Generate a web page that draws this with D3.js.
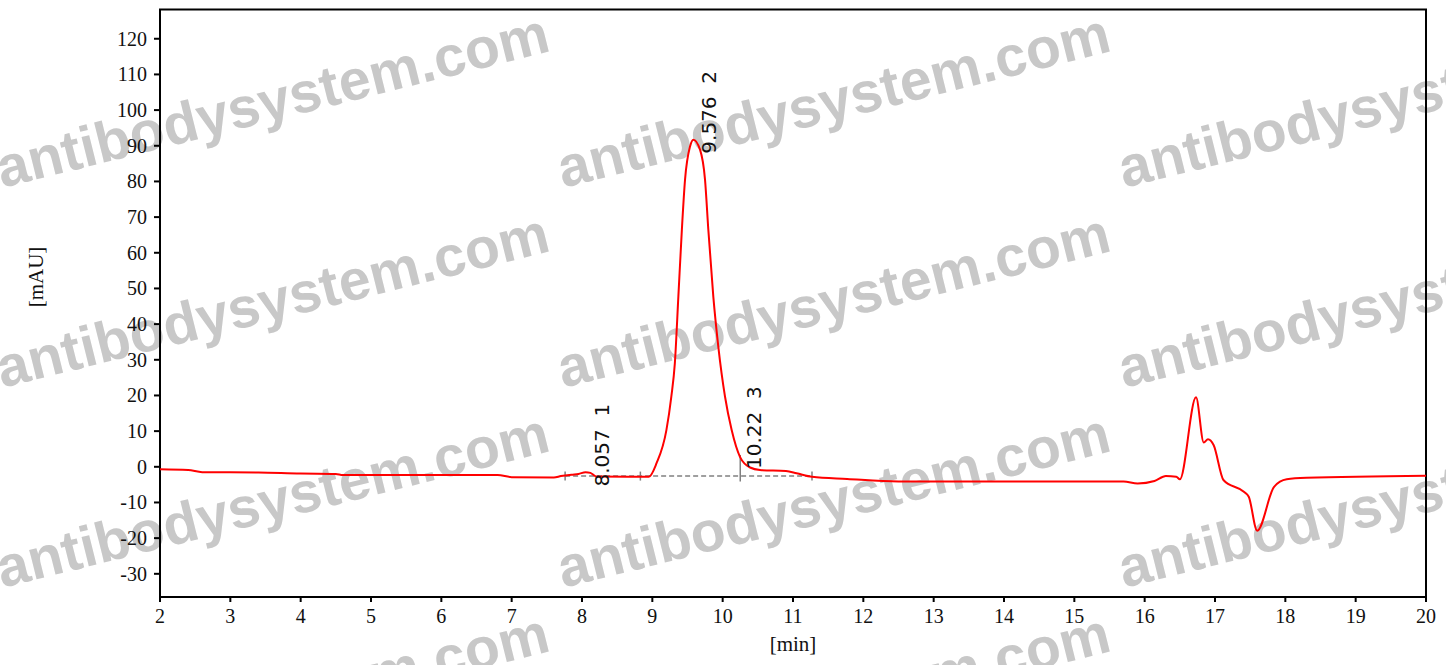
<!DOCTYPE html>
<html>
<head>
<meta charset="utf-8">
<script src="https://cdn.jsdelivr.net/npm/d3@7"></script>
<style>
  body { margin: 0; background: #fff; }
</style>
</head>
<body>
<div id="chartContainer"></div>
<script>
// retention time [min] and signal [mAU]
var times = [2.0, 2.4, 2.6, 3.4, 4.0, 4.5, 4.6, 6.8, 7.0, 7.6, 7.7, 7.85, 7.95, 8.05, 8.12, 8.2, 8.95,
    9.06, 9.2, 9.27, 9.32, 9.37, 9.42, 9.465, 9.536, 9.583, 9.678, 9.749, 9.796, 9.867, 9.938, 10.033,
    10.128, 10.246, 10.39, 10.53, 10.9, 11.05, 11.27, 11.77, 12.5, 15.7, 15.9, 16.14, 16.3, 16.45, 16.5,
    16.73, 16.84, 16.9, 16.98, 17.12, 17.41, 17.48, 17.6, 17.84, 18.02, 18.3, 20.0];
var signal = [-0.7, -0.9, -1.5, -1.6, -1.9, -2.0, -2.3, -2.3, -2.9, -3.0, -2.6, -2.2, -2.0, -1.5, -1.7, -2.7, -2.8,
    1.0, 10.3, 19.7, 29.0, 47.7, 66.5, 80.5, 89.8, 91.7, 88.9, 80.5, 66.5, 47.7, 33.7, 19.7,
    10.3, 2.8, -0.2, -0.9, -1.2, -1.8, -2.8, -3.4, -4.1, -4.1, -4.7, -4.0, -2.6, -2.8, -3.5,
    19.5, 6.8, 7.7, 6.1, -3.7, -7.0, -8.4, -17.9, -5.6, -3.5, -3.1, -2.5];

// integrated peaks
var peakTimes = [8.057, 9.576, 10.22];
var peakHeights = [-1.6, 91.7, 3.3];
var peakIds = ["1", "2", "3"];

// integration baseline and its boundary marks
var baseStart = 7.76, baseEnd = 11.27, baseLevel = -2.6;
var boundaryTimes = [7.76, 8.83, 11.27];
var dropTime = 10.25, dropTop = 3.3;

var xTicks = d3.range(2, 21, 1);
var yTicks = d3.range(-30, 130, 10);

var width = 1446, height = 665;
var plotLeft = 160, plotRight = 1426, plotTop = 9.5, plotBottom = 597;

var svg = d3.select("#chartContainer").append("svg")
    .attr("width", width)
    .attr("height", height);

var x = d3.scaleLinear().domain([2, 20]).range([plotLeft, plotRight]);
var y = d3.scaleLinear().domain([-36.5, 128.2]).range([plotBottom, plotTop]);

// watermark, drawn first so everything sits on top of it
var wm = svg.append("g").attr("class", "watermark");
for (var c = 0; c < 3; c++) {
    for (var r = -1; r < 4; r++) {
        var wx = 2 + c * 561, wy = 188 + r * 200;
        wm.append("text")
            .attr("transform", "translate(" + wx + "," + wy + ") rotate(-14)")
            .style("font-family", "'Liberation Sans', Arial, sans-serif")
            .style("font-weight", "bold")
            .style("font-size", "57px")
            .style("fill", "#c8c8c8")
            .text("antibodysystem.com");
    }
}

// frame
svg.append("rect")
    .attr("x", plotLeft)
    .attr("y", plotTop)
    .attr("width", plotRight - plotLeft)
    .attr("height", plotBottom - plotTop)
    .style("fill", "none")
    .style("stroke", "#000")
    .style("stroke-width", 2);

// y axis
var yAxis = svg.append("g");
yAxis.selectAll("line")
    .data(yTicks)
    .enter()
    .append("line")
    .attr("x1", plotLeft - 6)
    .attr("x2", plotLeft)
    .attr("y1", function (d) { return y(d); })
    .attr("y2", function (d) { return y(d); })
    .style("stroke", "#000")
    .style("stroke-width", 2);
yAxis.selectAll("text")
    .data(yTicks)
    .enter()
    .append("text")
    .attr("x", 147)
    .attr("y", function (d) { return y(d); })
    .attr("dy", "0.35em")
    .attr("text-anchor", "end")
    .style("font-family", "'Liberation Serif', 'Times New Roman', serif")
    .style("font-size", "20px")
    .style("fill", "#111")
    .text(function (d) { return d; });

// x axis
var xAxis = svg.append("g");
xAxis.selectAll("line")
    .data(xTicks)
    .enter()
    .append("line")
    .attr("x1", function (d) { return x(d); })
    .attr("x2", function (d) { return x(d); })
    .attr("y1", plotBottom)
    .attr("y2", plotBottom + 5)
    .style("stroke", "#000")
    .style("stroke-width", 2);
xAxis.selectAll("text")
    .data(xTicks)
    .enter()
    .append("text")
    .attr("x", function (d) { return x(d); })
    .attr("y", 623)
    .attr("text-anchor", "middle")
    .style("font-family", "'Liberation Serif', 'Times New Roman', serif")
    .style("font-size", "20px")
    .style("fill", "#111")
    .text(function (d) { return d; });

// axis titles
svg.append("text")
    .attr("x", (plotLeft + plotRight) / 2)
    .attr("y", 651)
    .attr("text-anchor", "middle")
    .style("font-family", "'Liberation Serif', 'Times New Roman', serif")
    .style("font-size", "21px")
    .style("fill", "#111")
    .text("[min]");
svg.append("text")
    .attr("transform", "translate(43,277) rotate(-90)")
    .attr("text-anchor", "middle")
    .style("font-family", "'Liberation Serif', 'Times New Roman', serif")
    .style("font-size", "21px")
    .style("fill", "#111")
    .text("[mAU]");

// integration baseline (dashed) and boundary ticks
svg.append("line")
    .attr("x1", x(baseStart))
    .attr("x2", x(baseEnd))
    .attr("y1", y(baseLevel))
    .attr("y2", y(baseLevel))
    .style("stroke", "#808080")
    .style("stroke-width", 1.5)
    .style("stroke-dasharray", "5,3");
svg.selectAll(".bound")
    .data(boundaryTimes)
    .enter()
    .append("line")
    .attr("class", "bound")
    .attr("x1", function (d) { return x(d); })
    .attr("x2", function (d) { return x(d); })
    .attr("y1", y(baseLevel) - 4.5)
    .attr("y2", y(baseLevel) + 4.5)
    .style("stroke", "#808080")
    .style("stroke-width", 1.5);
svg.append("line")
    .attr("x1", x(dropTime))
    .attr("x2", x(dropTime))
    .attr("y1", y(dropTop))
    .attr("y2", y(baseLevel) + 5.5)
    .style("stroke", "#808080")
    .style("stroke-width", 1.5);

// the trace
var points = times.map(function (t, i) { return [t, signal[i]]; });
var line = d3.line()
    .x(function (d) { return x(d[0]); })
    .y(function (d) { return y(d[1]); })
    .curve(d3.curveMonotoneX);
svg.append("path")
    .datum(points)
    .attr("d", line)
    .style("fill", "none")
    .style("stroke", "#ff0000")
    .style("stroke-width", 2);

// peak labels, rotated, starting just below the peak
svg.selectAll(".peakLabel")
    .data(peakTimes)
    .enter()
    .append("text")
    .attr("class", "peakLabel")
    .attr("transform", function (d, i) {
        return "translate(" + (x(d) + 23) + "," + (y(peakHeights[i]) + 14) + ") rotate(-90)";
    })
    .style("font-family", "'DejaVu Sans', Verdana, sans-serif")
    .style("font-size", "20px")
    .style("fill", "#111")
    .style("white-space", "pre")
    .text(function (d, i) { return d + "  " + peakIds[i]; });
</script>
</body>
</html>
